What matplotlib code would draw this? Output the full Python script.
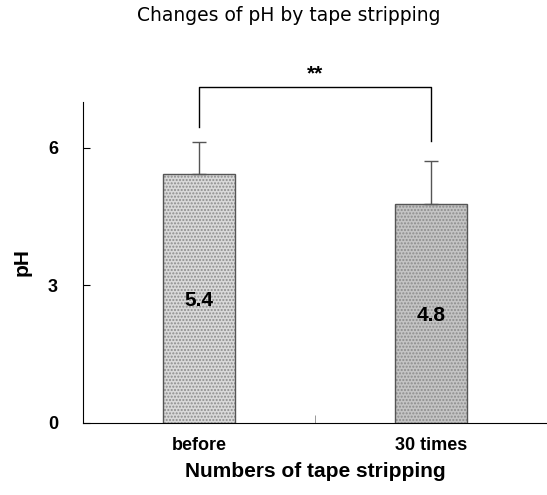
import numpy as np
import matplotlib.pyplot as plt

categories = ['before', '30 times']
ph_mean = [5.43, 4.78]
ph_err = [0.70, 0.94]
bar_labels = ['5.4', '4.8']
label_y = [2.67, 2.35]
bar_colors = ['#d9d9d9', '#c4c4c4']

plt.rcParams['font.family'] = ['Liberation Sans', 'DejaVu Sans']

fig = plt.figure(figsize=(5.47, 4.95), dpi=100)
ax = fig.add_axes([0.1517, 0.1455, 0.848, 0.6485])

x = np.arange(len(categories))
width = 0.31

# stippled fill, then outline
ax.bar(x, ph_mean, width, color=bar_colors, hatch='.....', edgecolor='#8c8c8c', linewidth=0)
ax.bar(x, ph_mean, width, fill=False, edgecolor='#555555', linewidth=1.0)

# upper error bars only
ax.errorbar(x, ph_mean, yerr=[np.zeros(len(x)), ph_err], fmt='none',
            ecolor='#555555', elinewidth=1.0, capsize=5, capthick=1.0)

for xi, lab, ly in zip(x, bar_labels, label_y):
    ax.text(xi, ly, lab, ha='center', va='center', fontsize=15, fontweight='bold')

# significance bracket
br_y = 7.33
ax.plot([0, 0, 1, 1], [6.46, br_y, br_y, 6.15], color='black', lw=1.0, clip_on=False)
ax.text(0.5, br_y + 0.08, '**', ha='center', va='bottom', fontsize=15, fontweight='bold')

ax.set_xlim(-0.5, 1.5)
ax.set_ylim(0, 7)
ax.set_yticks([0, 3, 6])
ax.tick_params(axis='y', direction='in', length=5, labelsize=13, pad=18)
for t in ax.get_yticklabels():
    t.set_fontweight('bold')
ax.set_xticks(x)
ax.set_xticklabels(categories, fontsize=13, fontweight='bold')
ax.tick_params(axis='x', length=0, pad=10)
ax.set_xticks([0.5], minor=True)
ax.tick_params(axis='x', which='minor', direction='in', length=6, color='#888888')

ax.spines['top'].set_visible(False)
ax.spines['right'].set_visible(False)

ax.set_ylabel('pH', fontsize=15, fontweight='bold', labelpad=12)
ax.set_xlabel('Numbers of tape stripping', fontsize=15, fontweight='bold', labelpad=6)
fig.text(0.527, 0.968, 'Changes of pH by tape stripping', ha='center', va='center',
         fontsize=13.5, family='DejaVu Sans')

fig.savefig('out.png', dpi=100)
